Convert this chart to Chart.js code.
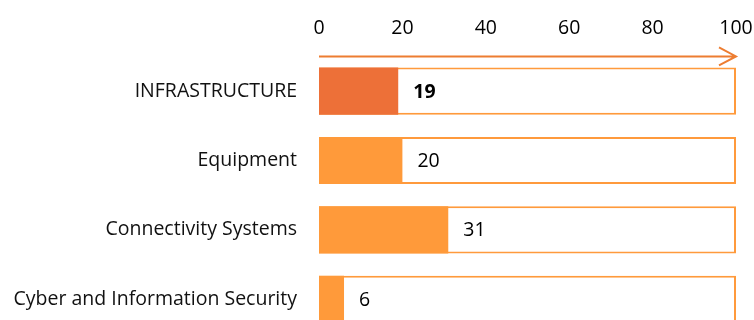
<!DOCTYPE html>
<html>
<head>
<meta charset="utf-8">
<script src="https://cdn.jsdelivr.net/npm/chart.js@4"></script>
<style>
  html, body { margin: 0; padding: 0; background: #fff; overflow: hidden; }
</style>
</head>
<body>
<canvas id="scoreChart" width="754" height="340"></canvas>
<script>
// scores per area, out of 100
const categories = ['INFRASTRUCTURE', 'Equipment', 'Connectivity Systems', 'Cyber and Information Security'];
const scores = [19, 20, 31, 6];
const xTicks = [0, 20, 40, 60, 80, 100];
const scaleMax = 100;

const fillColors = ['#ED7038', '#FF9A3A', '#FF9A3A', '#FF9A3A'];
const boxBorder = '#FF9A3C';
const arrowColor = '#ED7D31';
const FONT = '"Open Sans", Lato, sans-serif';
const FONT_SIZE = 19.5;

// arrow along the top axis + value text next to each bar
const extras = {
  id: 'extras',
  afterDatasetsDraw(chart) {
    const ctx = chart.ctx;
    const x = chart.scales.x;
    const y0 = chart.chartArea.top;
    const xa = x.getPixelForValue(0);
    const xb = x.getPixelForValue(scaleMax);
    ctx.save();
    ctx.strokeStyle = arrowColor;
    ctx.lineWidth = 2;
    ctx.beginPath();
    ctx.moveTo(xa, y0);
    ctx.lineTo(xb, y0);
    ctx.moveTo(xb - 17, y0 - 9);
    ctx.lineTo(xb, y0);
    ctx.lineTo(xb - 17, y0 + 9);
    ctx.stroke();

    const meta = chart.getDatasetMeta(1);
    ctx.fillStyle = '#000';
    ctx.textAlign = 'left';
    ctx.textBaseline = 'middle';
    meta.data.forEach((bar, i) => {
      ctx.font = (i === 0 ? 'bold ' : '') + FONT_SIZE + 'px ' + FONT;
      ctx.fillText(String(scores[i]), x.getPixelForValue(scores[i]) + 15, bar.y + 1);
    });
    ctx.restore();
  }
};

new Chart(document.getElementById('scoreChart'), {
  type: 'bar',
  data: {
    labels: categories,
    datasets: [
      {
        // white 0-100 box behind each score
        data: categories.map(() => scaleMax),
        backgroundColor: '#fff',
        borderColor: boxBorder,
        borderWidth: 2,
        borderSkipped: false,
        grouped: false,
        order: 2
      },
      {
        data: scores,
        backgroundColor: fillColors,
        borderWidth: 0,
        grouped: false,
        order: 1
      }
    ]
  },
  options: {
    indexAxis: 'y',
    responsive: false,
    animation: false,
    categoryPercentage: 1,
    barPercentage: 0.68,
    layout: { padding: { top: 1, right: 18, left: 0, bottom: 6 } },
    plugins: { legend: { display: false }, tooltip: { enabled: false } },
    scales: {
      x: {
        position: 'top',
        min: 0,
        max: scaleMax,
        afterBuildTicks(axis) { axis.ticks = xTicks.map(v => ({ value: v })); },
        afterFit(axis) { axis.paddingLeft = 0; axis.paddingRight = 0; },
        grid: { display: false, drawTicks: false },
        border: { display: false },
        ticks: { color: '#000', padding: 16, maxRotation: 0, font: { family: FONT, size: FONT_SIZE } }
      },
      y: {
        afterFit(axis) { axis.width = 319; axis.paddingTop = 0; axis.paddingBottom = 0; },
        grid: { display: false, drawTicks: false },
        border: { display: false },
        ticks: { color: '#111', padding: 22, font: { family: FONT, size: FONT_SIZE } }
      }
    }
  },
  plugins: [extras]
});
</script>
</body>
</html>
